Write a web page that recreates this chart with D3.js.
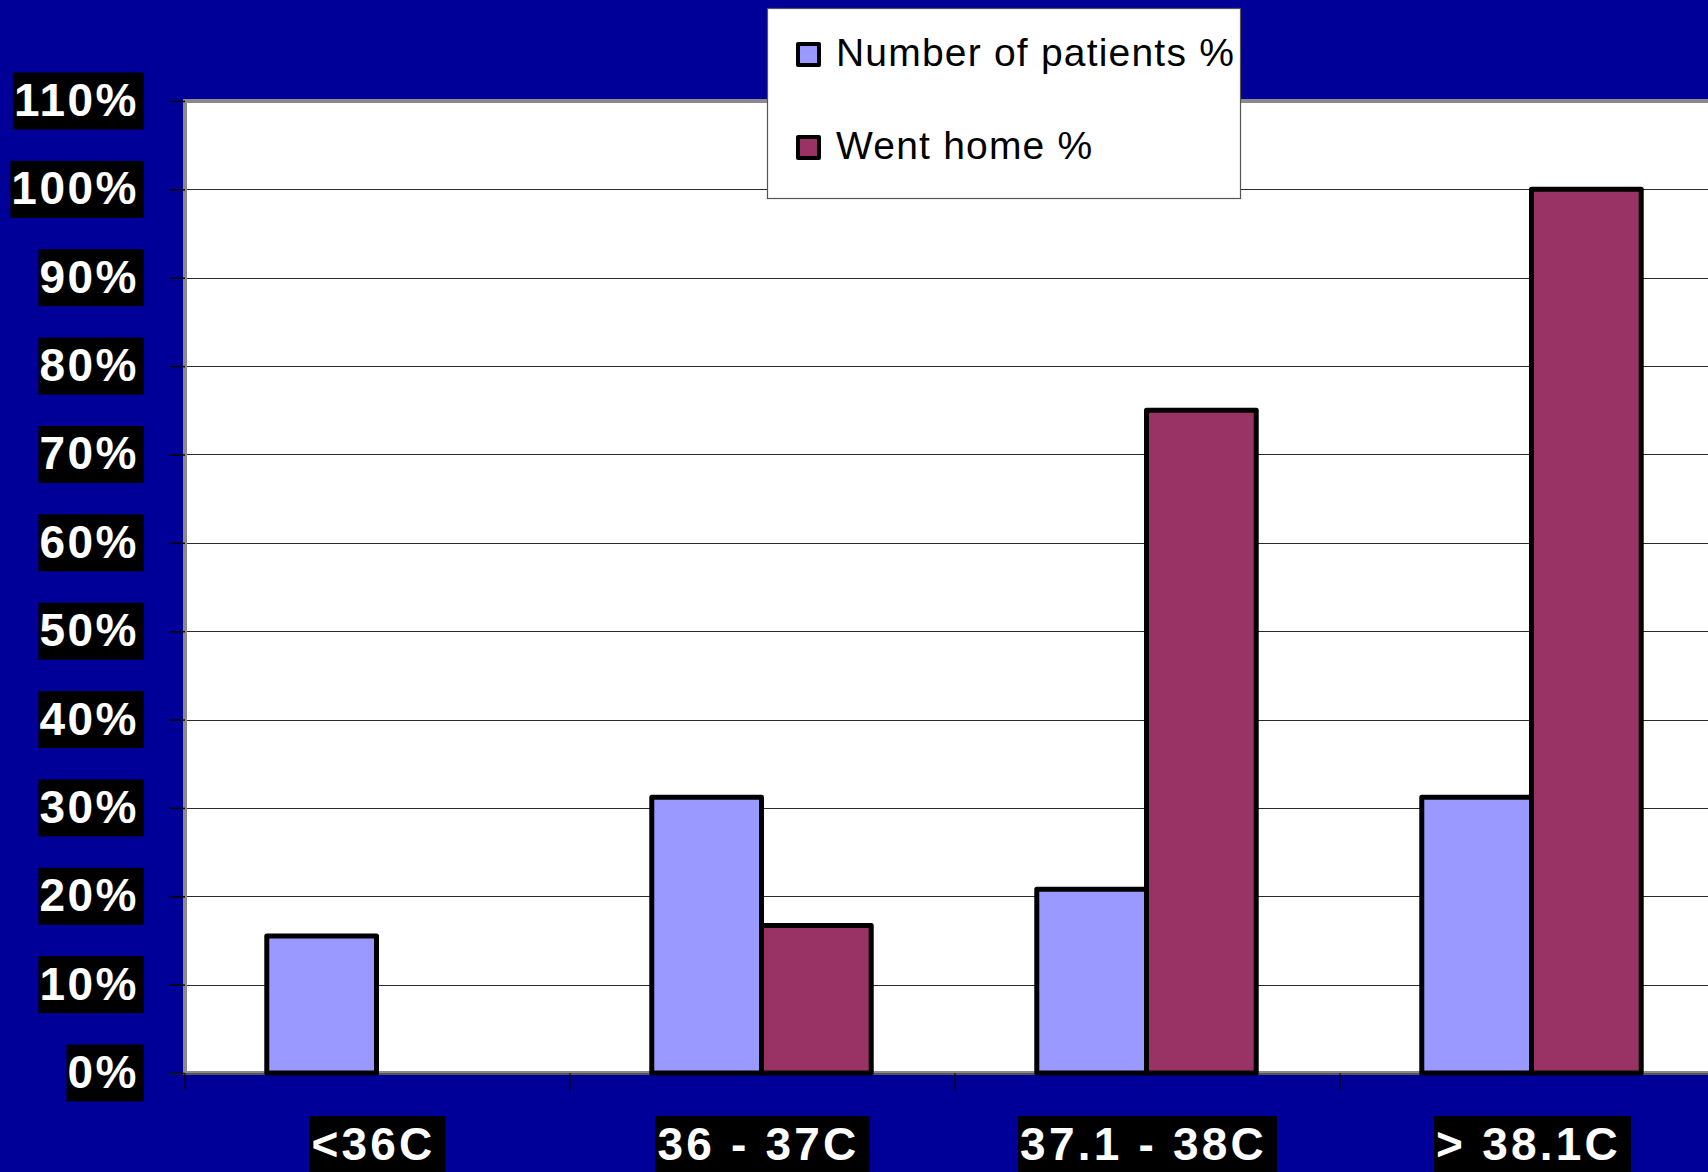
<!DOCTYPE html>
<html>
<head>
<meta charset="utf-8">
<script src="https://cdn.jsdelivr.net/npm/d3@7"></script>
<style>
  html, body { margin: 0; padding: 0; background: #000099; overflow: hidden; }
  svg { display: block; }
</style>
</head>
<body>
<svg id="chart" width="1708" height="1172"></svg>
<script>
// Temperature bands and the two percentage series
const categories = ["<36C", "36 - 37C", "37.1 - 38C", "> 38.1C"];
const seriesNames = ["Number of patients %", "Went home %"];
const patientsPct = [15.5, 31.2, 20.8, 31.2];
const wentHomePct = [0, 16.7, 75, 100];
const yTicks = [0, 10, 20, 30, 40, 50, 60, 70, 80, 90, 100, 110];
const colors = ["#9999FF", "#993366"];

const svg = d3.select("#chart");
const W = 1708, H = 1172;
const plot = { left: 185, right: 1725, top: 101, bottom: 1073 };
const FONT = "'Liberation Sans', Arial, Helvetica, sans-serif";

const x0 = d3.scaleBand().domain(categories).range([plot.left, plot.right]).padding(0);
const groupFrac = 0.57;
const x1 = d3.scaleBand().domain(seriesNames)
  .range([0, x0.bandwidth() * groupFrac]).padding(0);
const groupOffset = x0.bandwidth() * (1 - groupFrac) / 2 - 1;
const y = d3.scaleLinear().domain([0, 110]).range([plot.bottom, plot.top]);

// background
svg.append("rect").attr("width", W).attr("height", H).attr("fill", "#000099");

// plot area
svg.append("rect")
  .attr("x", plot.left).attr("y", plot.top)
  .attr("width", plot.right - plot.left).attr("height", plot.bottom - plot.top)
  .attr("fill", "#ffffff").attr("stroke", "#8a8a8a").attr("stroke-width", 4);

// gridlines
svg.append("g").selectAll("line").data(yTicks.filter(t => t > 0 && t < 110)).join("line")
  .attr("x1", plot.left + 2).attr("x2", plot.right)
  .attr("y1", d => Math.round(y(d)) + 0.5).attr("y2", d => Math.round(y(d)) + 0.5)
  .attr("stroke", "#2a2a2a").attr("stroke-width", 1.2);

// y axis ticks
const yAxis = d3.axisLeft(y).tickValues(yTicks).tickSize(16).tickFormat("");
const gy = svg.append("g").attr("transform", `translate(${plot.left},0)`).call(yAxis);
gy.select(".domain").remove();
gy.selectAll(".tick line").attr("stroke", "#000").attr("stroke-width", 1.5);

// x axis ticks at band boundaries
const bounds = categories.map(c => x0(c)).concat([plot.right]);
svg.append("g").selectAll("line").data(bounds).join("line")
  .attr("x1", d => d).attr("x2", d => d)
  .attr("y1", plot.bottom).attr("y2", plot.bottom + 17)
  .attr("stroke", "#000").attr("stroke-width", 1.2);

// baseline
svg.append("line")
  .attr("x1", plot.left - 16).attr("x2", plot.right)
  .attr("y1", plot.bottom + 1).attr("y2", plot.bottom + 1)
  .attr("stroke", "#222").attr("stroke-width", 1.2);

// bars
const rows = categories.map((c, i) => ({ cat: c, vals: [patientsPct[i], wentHomePct[i]] }));
const groups = svg.append("g").selectAll("g").data(rows).join("g")
  .attr("transform", d => `translate(${x0(d.cat) + groupOffset},0)`);
groups.selectAll("rect")
  .data(d => d.vals.map((v, j) => ({ name: seriesNames[j], v, j })).filter(e => e.v > 0))
  .join("rect")
  .attr("x", d => x1(d.name))
  .attr("y", d => y(d.v))
  .attr("width", x1.bandwidth())
  .attr("height", d => y(0) - y(d.v))
  .attr("fill", d => colors[d.j])
  .attr("stroke", "#000")
  .attr("stroke-width", 5)
  .attr("stroke-linejoin", "round");

// y tick labels, white on black boxes
const yLab = svg.append("g");
yTicks.forEach(t => {
  const cy = y(t);
  const g = yLab.append("g");
  const txt = g.append("text")
    .attr("x", 139).attr("y", cy + 15)
    .attr("text-anchor", "end")
    .attr("font-family", FONT).attr("font-weight", "bold")
    .attr("font-size", 46).attr("letter-spacing", 2.5)
    .attr("fill", "#ffffff")
    .text(t + "%");
  const bb = txt.node().getBBox();
  g.insert("rect", "text")
    .attr("x", bb.x - 1).attr("y", cy - 28.5)
    .attr("width", 144 - (bb.x - 1)).attr("height", 57)
    .attr("fill", "#000");
});

// x category labels
const xLab = svg.append("g");
categories.forEach(c => {
  const cx = x0(c) + x0.bandwidth() / 2;
  const g = xLab.append("g");
  const txt = g.append("text")
    .attr("x", cx - 4).attr("y", 1160)
    .attr("text-anchor", "middle")
    .attr("font-family", FONT).attr("font-weight", "bold")
    .attr("font-size", 46).attr("letter-spacing", 3.2)
    .attr("fill", "#ffffff")
    .text(c);
  const bb = txt.node().getBBox();
  g.insert("rect", "text")
    .attr("x", bb.x - 2).attr("y", 1116)
    .attr("width", bb.width + 12).attr("height", 70)
    .attr("fill", "#000");
});

// legend
const leg = svg.append("g");
leg.append("rect")
  .attr("x", 767.5).attr("y", 8.5).attr("width", 473).attr("height", 190)
  .attr("fill", "#ffffff").attr("stroke", "#555").attr("stroke-width", 1.2);
const legRows = [54.5, 147.5];
seriesNames.forEach((name, i) => {
  leg.append("rect")
    .attr("x", 798).attr("y", legRows[i] - 10.5).attr("width", 21).attr("height", 21)
    .attr("fill", colors[i]).attr("stroke", "#000").attr("stroke-width", 4)
    .attr("stroke-linejoin", "round");
  leg.append("text")
    .attr("x", 836).attr("y", legRows[i] + 11)
    .attr("font-family", FONT).attr("font-size", 39).attr("letter-spacing", 1.2)
    .attr("fill", "#000")
    .text(name);
});
</script>
</body>
</html>
